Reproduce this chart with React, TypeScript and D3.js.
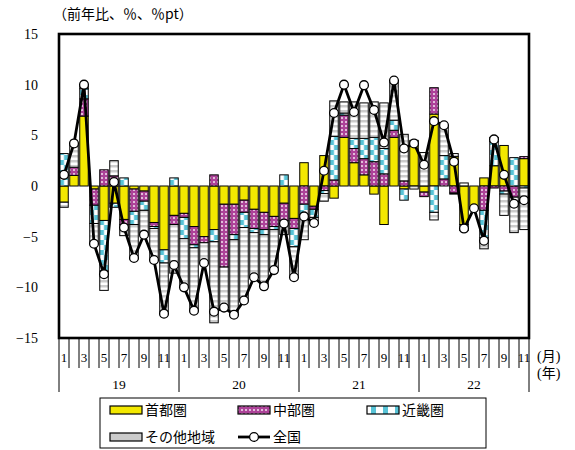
import React from "react";
import * as d3 from "d3";

// Monthly contributions (前年比寄与度, %pt), Jan 2019 – Nov 2022
const shuto = [
  -1.6, 1.05, 6.9, -0.3, -3.4, -1.7, -3.3, -0.3, -0.5, -3.6, -6.3, -2.9,
  -2.7, -4.0, -5.0, -4.3, -1.8, -1.8, -1.4, -2.3, -2.6, -3.0, -1.7, -3.2,
  2.3, -2.0, 3.0, -1.2, 4.8, 2.3, 1.1, -0.8, -3.8, 4.8, -0.3, 4.5,
  -0.6, 7.1, 0.0, 2.9, -3.8, -2.1, 0.8, 2.0, 4.0, 0.0, 2.7,
];
const chubu = [
  0.0, 0.8, 1.7, -1.6, 1.6, 1.0, -0.5, -2.2, -1.0, -0.4, 0.0, -0.9,
  -0.4, -1.8, -0.6, 1.1, -6.2, -3.0, -1.2, -1.9, -1.7, -1.0, -1.7, -1.0,
  -1.8, -0.3, -0.45, 0.6, 2.2, 1.4, 1.6, 2.4, 1.2, 0.7, 0.5, 0.0,
  -0.45, 2.6, 0.7, -0.7, 0.0, 0.0, -2.4, -0.2, -0.5, -1.1, 0.2,
];
const kinki = [
  3.2, 0.0, 1.0, -1.8, -5.0, -0.4, 0.8, -1.3, -0.9, -0.2, -1.3, 0.8,
  -2.1, -0.3, 0.0, -1.2, 0.0, -0.5, -1.5, -0.4, -0.5, -0.3, 1.1, -1.8,
  -1.0, -0.8, -0.3, 4.3, 0.2, 1.0, 2.0, 2.4, 2.5, 1.0, -1.1, 0.0,
  0.0, -2.6, 2.3, -0.1, -0.6, 0.0, -2.7, 2.4, -0.3, 2.8, -0.2,
];
const other = [
  -0.5, 2.4, 0.3, -2.0, -1.9, 1.5, -1.1, -3.4, -2.4, -3.1, -5.0, -4.8,
  -4.8, -6.2, -2.0, -8.0, -4.0, -7.4, -7.2, -4.4, -5.1, -4.0, -1.4, -3.0,
  -2.5, -0.55, -0.75, 3.5, 1.1, 3.6, 3.5, 3.5, 4.5, 3.9, 4.6, -0.3,
  3.3, -0.75, 3.0, 0.3, 0.3, -0.1, -1.1, 0.4, -2.1, -3.5, -4.1,
];
// 全国 (前年比, %)
const total = [
  1.1, 4.2, 10.0, -5.7, -8.7, 0.4, -4.1, -7.1, -4.8, -7.3, -12.6, -7.8,
  -10.0, -12.3, -7.6, -12.4, -12.0, -12.7, -11.3, -9.0, -9.9, -8.3, -3.7, -9.0,
  -3.0, -3.65, 1.5, 7.2, 10.0, 7.3, 9.95, 7.5, 4.3, 10.4, 3.7, 4.2,
  2.1, 6.4, 6.0, 2.4, -4.2, -2.2, -5.4, 4.6, 1.1, -1.75, -1.4,
];

const yearLabels = ["19", "20", "21", "22"];
const monthsInYear = [12, 12, 12, 11];
const monthTickLabels = ["1", "", "3", "", "5", "", "7", "", "9", "", "11", ""];
const yTicks = [15, 10, 5, 0, -5, -10, -15];

const seriesKeys = ["shuto", "chubu", "kinki", "other"] as const;
const seriesNames = ["首都圏", "中部圏", "近畿圏", "その他地域"];
const totalName = "全国";

const W = 575;
const H = 450;
const plot = { left: 59, right: 529, top: 34, bottom: 338 };

const YELLOW = "#f3e800";
const MAGENTA = "#ad4399";
const CYAN = "#58c3d6";
const GRAY = "#cbcbcb";

const serif = "'Liberation Serif', 'DejaVu Serif', serif";
const jp = "'Liberation Serif', 'Noto Sans CJK JP', sans-serif";
const jpOnly = "'Noto Sans CJK JP', sans-serif";

export default function App() {
  const n = shuto.length;
  const idx = d3.range(n);
  const x = d3
    .scaleBand<number>()
    .domain(idx)
    .range([plot.left, plot.right])
    .paddingInner(0.15)
    .paddingOuter(0.075);
  const bw = x.bandwidth();
  const step = x.step();
  const y = d3.scaleLinear().domain([-15, 15]).range([plot.bottom, plot.top]);

  const rows = idx.map((i) => ({
    shuto: shuto[i],
    chubu: chubu[i],
    kinki: kinki[i],
    other: other[i],
  }));
  const stacked = d3
    .stack<any>()
    .keys(seriesKeys as unknown as string[])
    .offset(d3.stackOffsetDiverging)(rows);

  const fills: Record<string, string> = {
    shuto: YELLOW,
    chubu: "url(#pChubu)",
    kinki: "url(#pKinki)",
    other: "url(#pOther)",
  };

  const line = d3
    .line<number>()
    .x((i) => (x(i) as number) + bw / 2)
    .y((i) => y(total[i]));

  // month boundaries and year separators
  const boundaries = d3.range(n + 1).map((k) => plot.left + k * step);
  const yearStarts: number[] = [];
  let acc = 0;
  monthsInYear.forEach((m) => {
    yearStarts.push(acc);
    acc += m;
  });
  const yearSepIdx = [...yearStarts, n];

  const barLeft = x(0) as number;

  const legendRow1 = 410;
  const legendRow2 = 437;
  const legendItems = [
    { key: "shuto", label: seriesNames[0], x: 110, y: legendRow1 },
    { key: "chubu", label: seriesNames[1], x: 238, y: legendRow1 },
    { key: "kinki", label: seriesNames[2], x: 367, y: legendRow1 },
    { key: "other", label: seriesNames[3], x: 110, y: legendRow2 },
  ];

  return (
    <svg
      width={W}
      height={H}
      viewBox={`0 0 ${W} ${H}`}
      style={{ position: "absolute", left: 0, top: 0, background: "#fff" }}
    >
      <defs>
        <pattern id="pChubu" patternUnits="userSpaceOnUse" width={4} height={4}>
          <rect width={4} height={4} fill={MAGENTA} />
          <rect x={1.2} y={1.2} width={1.6} height={1.6} fill="#fff" />
        </pattern>
        <pattern
          id="pKinki"
          patternUnits="userSpaceOnUse"
          x={barLeft}
          y={0}
          width={step}
          height={10}
        >
          <rect width={step} height={10} fill="#fff" />
          <rect x={0} y={0} width={bw / 2} height={5} fill={CYAN} />
          <rect x={bw / 2} y={5} width={bw / 2} height={5} fill={CYAN} />
        </pattern>
        <pattern id="pOther" patternUnits="userSpaceOnUse" width={4} height={5}>
          <rect width={4} height={5} fill="#fff" />
          <rect width={4} height={2.5} fill={GRAY} />
        </pattern>
        <pattern id="pKinkiLegend" patternUnits="userSpaceOnUse" x={367} width={12} height={8}>
          <rect width={12} height={8} fill="#fff" />
          <rect x={4} y={0} width={5} height={8} fill={CYAN} />
        </pattern>
      </defs>

      {/* title */}
      <text x={53} y={19} fontSize={14} fontFamily={jpOnly} fill="#000">
        （前年比、％、％pt）
      </text>

      {/* y tick labels */}
      {yTicks.map((t) => (
        <text
          key={t}
          x={38}
          y={y(t) + 5}
          textAnchor="end"
          fontSize={14}
          fontFamily={serif}
          fill="#000"
        >
          {t < 0 ? `−${Math.abs(t)}` : `${t}`}
        </text>
      ))}

      {/* stacked bars */}
      {stacked.map((s) => (
        <g key={s.key}>
          {s.map((d, i) => {
            const v0 = d[0];
            const v1 = d[1];
            if (Math.abs(v1 - v0) < 1e-9) return null;
            const top = y(Math.max(v0, v1));
            const h = Math.abs(y(v0) - y(v1));
            return (
              <rect
                key={i}
                x={x(i)}
                y={top}
                width={bw}
                height={h}
                fill={fills[s.key]}
                stroke="#000"
                strokeWidth={1}
              />
            );
          })}
        </g>
      ))}

      {/* total line */}
      <path d={line(idx) || ""} fill="none" stroke="#000" strokeWidth={2.8} strokeLinejoin="round" />
      {idx.map((i) => (
        <circle
          key={i}
          cx={(x(i) as number) + bw / 2}
          cy={y(total[i])}
          r={4.4}
          fill="#fff"
          stroke="#000"
          strokeWidth={1.3}
        />
      ))}

      {/* frame */}
      <rect
        x={plot.left}
        y={plot.top}
        width={plot.right - plot.left}
        height={plot.bottom - plot.top}
        fill="none"
        stroke="#000"
        strokeWidth={2.6}
      />

      {/* month ticks */}
      {boundaries.map((bx, k) => (
        <line
          key={k}
          x1={bx}
          x2={bx}
          y1={plot.bottom}
          y2={yearSepIdx.includes(k) ? 392 : 368}
          stroke="#000"
          strokeWidth={1}
        />
      ))}
      {idx.map((i) => {
        const m = i - yearStarts[Math.min(3, Math.floor(i / 12))];
        const lbl = monthTickLabels[m];
        if (!lbl) return null;
        return (
          <text
            key={i}
            x={(x(i) as number) + bw / 2}
            y={362}
            textAnchor="middle"
            fontSize={13}
            fontFamily={serif}
            fill="#000"
          >
            {lbl}
          </text>
        );
      })}
      {yearLabels.map((yl, k) => {
        const cx = plot.left + ((yearStarts[k] + monthsInYear[k] / 2) * step);
        return (
          <text
            key={yl}
            x={cx}
            y={389}
            textAnchor="middle"
            fontSize={13.5}
            fontFamily={serif}
            fill="#000"
          >
            {yl}
          </text>
        );
      })}
      <text x={537} y={361} fontSize={14} fontFamily={jp} fill="#000">
        (月)
      </text>
      <text x={537} y={378} fontSize={14} fontFamily={jp} fill="#000">
        (年)
      </text>

      {/* legend */}
      <rect x={100} y={398} width={386} height={50} fill="#fff" stroke="#000" strokeWidth={1} />
      {legendItems.map((it) => (
        <g key={it.key}>
          <rect
            x={it.x}
            y={it.y - 4}
            width={32}
            height={8}
            fill={it.key === "kinki" ? "url(#pKinkiLegend)" : it.key === "other" ? GRAY : fills[it.key]}
            stroke="#000"
            strokeWidth={1.2}
          />
          <text x={it.x + 35} y={it.y + 5} fontSize={14} fontFamily={jp} fill="#000">
            {it.label}
          </text>
        </g>
      ))}
      <line x1={238} x2={270} y1={legendRow2} y2={legendRow2} stroke="#000" strokeWidth={2.8} />
      <circle cx={254} cy={legendRow2} r={4.4} fill="#fff" stroke="#000" strokeWidth={1.3} />
      <text x={273} y={legendRow2 + 5} fontSize={14} fontFamily={jp} fill="#000">
        {totalName}
      </text>
    </svg>
  );
}
